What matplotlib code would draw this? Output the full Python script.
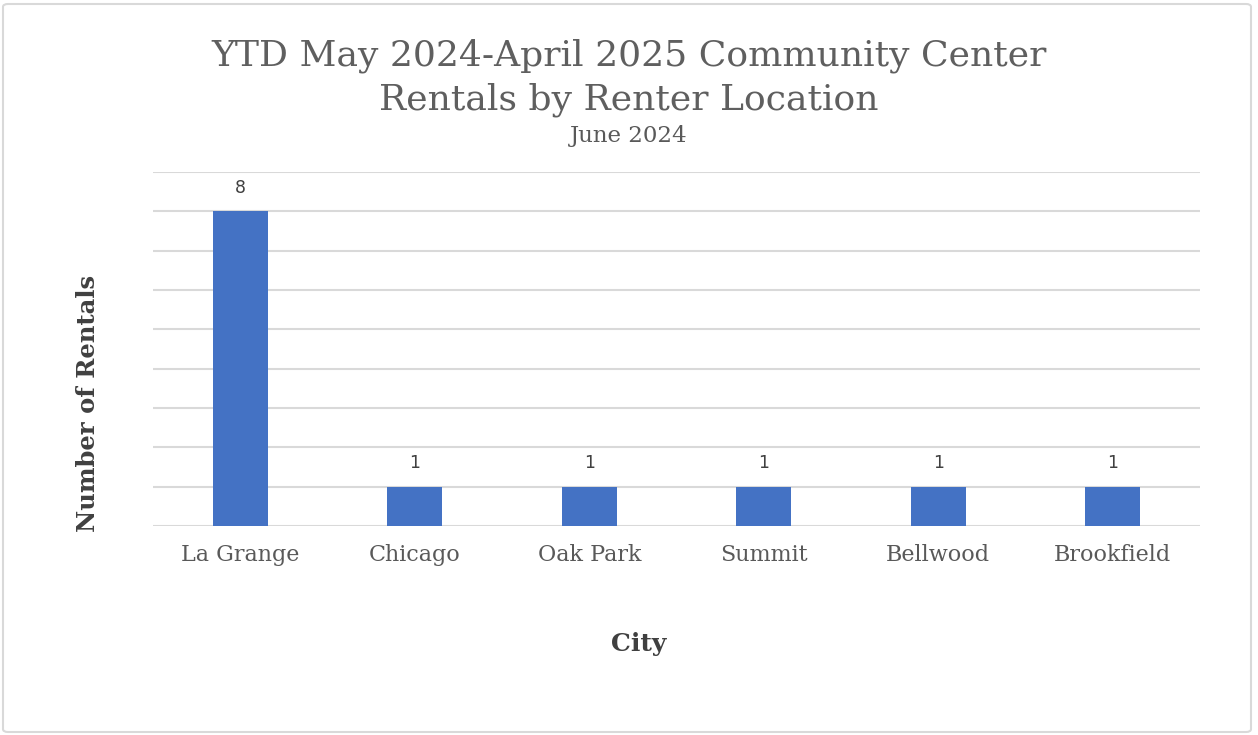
import matplotlib
matplotlib.use("Agg")
import matplotlib.pyplot as plt
from matplotlib.patches import FancyBboxPatch

cities = ["La Grange", "Chicago", "Oak Park", "Summit", "Bellwood", "Brookfield"]
rentals = [8, 1, 1, 1, 1, 1]
title_lines = ["YTD May 2024-April 2025 Community Center", "Rentals by Renter Location"]
subtitle = "June 2024"
x_label = "City"
y_label = "Number of Rentals"

W, H = 1258, 735
fig = plt.figure(figsize=(W / 100, H / 100), dpi=100)
fig.patch.set_facecolor("white")

# outer border
border = FancyBboxPatch((3 / W, 3 / H), (W - 10) / W, (H - 7) / H,
                        boxstyle="round,pad=0,rounding_size=0.004",
                        transform=fig.transFigure, fill=False,
                        edgecolor="#D9D9D9", linewidth=1.5)
fig.patches.append(border)

ax = fig.add_axes([153 / W, (H - 526) / H, (1200 - 153) / W, (526 - 172) / H])
xs = list(range(len(cities)))
bars = ax.bar(xs, rentals, width=0.315, color="#4472C4", zorder=3)
ax.set_xlim(-0.5, len(cities) - 0.5)
ax.set_ylim(0, 9)
ax.set_yticks(range(0, 10))
ax.set_yticklabels([])
ax.tick_params(axis="y", length=0)
ax.tick_params(axis="x", length=0, pad=13)
ax.grid(axis="y", color="#D9D9D9", linewidth=1.5, zorder=0)
for s in ax.spines.values():
    s.set_visible(False)
ax.set_xticks(xs)
ax.set_xticklabels(cities, family="DejaVu Serif", fontsize=16, color="#595959")

for b, v in zip(bars, rentals):
    ax.annotate(str(v), (b.get_x() + b.get_width() / 2, v), xytext=(0, 10.5),
                textcoords="offset points", ha="center", va="bottom",
                fontsize=12.5, color="#404040", family="DejaVu Sans")

fig.text(0.5, 1 - 56 / H, title_lines[0], ha="center", va="center",
         family="DejaVu Serif", fontsize=26, color="#5f5f5f")
fig.text(0.5, 1 - 100 / H, title_lines[1], ha="center", va="center",
         family="DejaVu Serif", fontsize=26, color="#5f5f5f")
fig.text(0.5, 1 - 136 / H, subtitle, ha="center", va="center",
         family="DejaVu Serif", fontsize=16.5, color="#595959")

fig.text(639 / W, 1 - 644 / H, x_label, ha="center", va="center",
         family="DejaVu Serif", fontsize=18, fontweight="bold", color="#404040")
fig.text(88 / W, 1 - 403 / H, y_label, ha="center", va="center", rotation=90,
         family="DejaVu Serif", fontsize=17.5, fontweight="bold", color="#404040")

fig.savefig("out.png", dpi=100, facecolor="white")
